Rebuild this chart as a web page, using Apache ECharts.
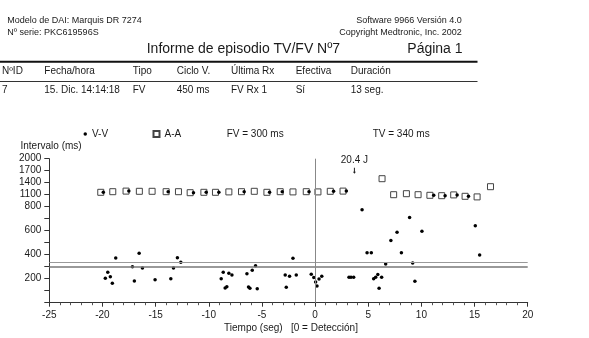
<!DOCTYPE html>
<html>
<head>
<meta charset="utf-8">
<script src="https://cdn.jsdelivr.net/npm/echarts@6/dist/echarts.min.js"></script>
<style>
  html, body { margin: 0; padding: 0; background: #fff; }
  #chart { width: 589px; height: 338px; }
</style>
</head>
<body>
<div id="chart"></div>
<script>
// A-A intervals (squares)
const aaTime = [-20.16, -19.03, -17.78, -16.53, -15.33, -14.01, -12.85, -11.75, -10.46, -9.37,
  -8.11, -6.92, -5.72, -4.53, -3.28, -2.08, -0.83, 0.27, 1.43, 2.63,
  6.30, 7.39, 8.59, 9.69, 10.80, 11.91, 13.04, 14.11, 15.24, 16.50];
const aaInterval = [1160, 1175, 1190, 1185, 1185, 1175, 1175, 1150, 1160, 1160,
  1170, 1175, 1185, 1160, 1175, 1170, 1175, 1170, 1185, 1190,
  1500, 1100, 1125, 1100, 1085, 1075, 1095, 1060, 1045, 1300];

// V-V intervals (dots)
const vvTime = [-19.92, -19.73, -19.50, -19.26, -19.07, -18.75, -17.52, -17.18, -17.00, -16.55,
  -16.24, -15.05, -13.82, -13.57, -13.32, -12.95, -12.63, -11.44, -10.24, -9.05,
  -8.83, -8.64, -8.46, -8.30, -8.11, -7.82, -6.67, -6.41, -6.26, -6.13,
  -5.91, -5.60, -5.44, -4.28, -3.09, -2.81, -2.71, -2.40, -2.08, -1.77,
  -0.57, -0.36, -0.12, 0.05, 0.18, 0.37, 0.63, 1.74, 2.94, 3.19,
  3.38, 3.63, 4.42, 4.89, 5.29, 5.51, 5.70, 5.90, 6.02, 6.26,
  6.64, 7.13, 7.71, 8.12, 8.89, 9.18, 9.39, 10.05, 11.16, 12.23,
  13.36, 14.43, 15.07, 15.48];
const vvInterval = [1160, 203, 253, 217, 162, 372, 1190, 300, 181, 412,
  289, 192, 1175, 200, 289, 375, 337, 1150, 1160, 1160,
  200, 253, 123, 133, 245, 231, 1175, 242, 131, 120,
  270, 308, 117, 1160, 1175, 231, 128, 220, 370, 231,
  1175, 237, 210, 172, 139, 198, 220, 1185, 1190, 212,
  212, 212, 774, 417, 417, 200, 213, 235, 121, 212,
  323, 518, 587, 417, 710, 331, 178, 596, 1085, 1075,
  1095, 1060, 642, 398];

const shockTime = [3.7];
const shockInterval = [1700];
const shockLabel = ['20.4 J'];

const fvZone = 300;
const tvZone = 340;
const yTickLabels = [200, 400, 600, 800, 1100, 1400, 1700, 2000];

const tableHeader = ['NºID', 'Fecha/hora', 'Tipo', 'Ciclo V.', 'Última Rx', 'Efectiva', 'Duración'];
const tableRow = ['7', '15. Dic. 14:14:18', 'FV', '450 ms', 'FV Rx 1', 'Sí', '13 seg.'];
const tableCols = [2, 44.3, 132.7, 176.7, 231, 295.7, 350.7];

// axis is compressed above 800 ms (3x)
function toAxis(v) { return v <= 800 ? v : 800 + (v - 800) / 3; }
function fromAxis(d) { return d <= 800 ? d : 800 + (d - 800) * 3; }

const FONT = '"Liberation Sans", Arial, sans-serif';
const INK = '#1a1a1a';

function txt(x, y, text, size, align) {
  return {
    type: 'text', x: x, y: y, silent: true,
    style: { text: text, fontSize: size, fontFamily: FONT, fill: INK,
      align: align || 'left', verticalAlign: 'middle' }
  };
}

const graphics = [
  txt(7.3, 21, 'Modelo de DAI: Marquis DR 7274', 9),
  txt(7.3, 33, 'Nº serie: PKC619596S', 9),
  txt(461.7, 21, 'Software 9966 Versión 4.0', 9, 'right'),
  txt(461.7, 33, 'Copyright Medtronic, Inc. 2002', 9, 'right'),
  txt(146.7, 49.5, 'Informe de episodio TV/FV Nº7', 14),
  txt(407.3, 49.5, 'Página 1', 14),
  { type: 'line', silent: true, shape: { x1: 0, y1: 61.7, x2: 477.5, y2: 61.7 },
    style: { stroke: '#111', lineWidth: 2 } },
  { type: 'line', silent: true, shape: { x1: 0, y1: 81.5, x2: 477.5, y2: 81.5 },
    style: { stroke: '#333', lineWidth: 1 } },
  txt(226.7, 134.7, 'FV = ' + fvZone + ' ms', 10),
  txt(372.7, 134.7, 'TV = ' + tvZone + ' ms', 10),
  txt(20.5, 146, 'Intervalo (ms)', 10)
];
tableHeader.forEach((h, i) => graphics.push(txt(tableCols[i], 71.7, h, 10)));
tableRow.forEach((c, i) => graphics.push(txt(tableCols[i], 90, c, 10)));

const chart = echarts.init(document.getElementById('chart'));
chart.setOption({
  backgroundColor: '#fff',
  animation: false,
  textStyle: { fontFamily: FONT, color: INK },
  grid: { left: 49.3, right: 61.3, top: 158.7, bottom: 35.3 },
  legend: [
    { data: ['V-V'], left: 83.5, top: 129, padding: 0, icon: 'circle',
      itemWidth: 3.5, itemHeight: 3.5, textStyle: { fontSize: 10, color: INK } },
    { data: ['A-A'], left: 152.5, top: 129, padding: 0, icon: 'rect',
      itemWidth: 6, itemHeight: 6, textStyle: { fontSize: 10, color: INK } }
  ],
  xAxis: {
    type: 'value', min: -25, max: 20, interval: 5,
    name: 'Tiempo (seg)   [0 = Detección]', nameLocation: 'middle', nameGap: 21,
    nameTextStyle: { fontSize: 10, color: INK, padding: [0, 0, 0, 5] },
    axisLine: { show: true, onZero: false, lineStyle: { color: '#333', width: 1 } },
    axisTick: { show: true, length: 4, lineStyle: { color: '#333' } },
    minorTick: { show: true, splitNumber: 5, length: 2.5, lineStyle: { color: '#555' } },
    axisLabel: { fontSize: 10, color: INK, margin: 8 },
    splitLine: { show: false }
  },
  yAxis: {
    type: 'value', min: 0, max: toAxis(2000), interval: 100,
    axisLine: { show: true, onZero: false, lineStyle: { color: '#333', width: 1 } },
    axisTick: { show: true, length: 5, lineStyle: { color: '#333' } },
    axisLabel: {
      fontSize: 10, color: INK, margin: 8,
      formatter: v => {
        const real = Math.round(fromAxis(v));
        return yTickLabels.indexOf(real) >= 0 ? String(real) : '';
      }
    },
    splitLine: { show: false }
  },
  graphic: graphics,
  series: [
    {
      name: 'A-A', type: 'scatter', symbol: 'rect', symbolSize: 6,
      itemStyle: { color: '#fff', borderColor: '#444', borderWidth: 1, opacity: 1 },
      data: aaTime.map((t, i) => [t, toAxis(aaInterval[i])]),
      markLine: {
        silent: true, symbol: 'none', label: { show: false },
        data: [
          { yAxis: toAxis(tvZone), lineStyle: { color: '#999', width: 1, type: 'solid' } },
          { yAxis: toAxis(fvZone), lineStyle: { color: '#777', width: 1.6, type: 'solid' } },
          { xAxis: 0, lineStyle: { color: '#888', width: 1, type: 'solid' } }
        ]
      },
      z: 2
    },
    {
      name: 'V-V', type: 'scatter', symbol: 'circle', symbolSize: 3.5,
      itemStyle: { color: '#000', opacity: 1 },
      data: vvTime.map((t, i) => [t, toAxis(vvInterval[i])]),
      z: 3
    },
    {
      name: 'shock', type: 'scatter',
      symbol: 'path://M1,0 L2,0 L2,6 L3,6 L1.5,9 L0,6 L1,6 Z',
      symbolSize: [3, 6],
      itemStyle: { color: '#222', opacity: 1 },
      label: { show: true, position: 'top', distance: 2, fontSize: 10, color: INK,
        formatter: p => shockLabel[p.dataIndex] },
      emphasis: { disabled: true },
      data: shockTime.map((t, i) => [t, toAxis(shockInterval[i])]),
      z: 3
    }
  ]
});
</script>
</body>
</html>
